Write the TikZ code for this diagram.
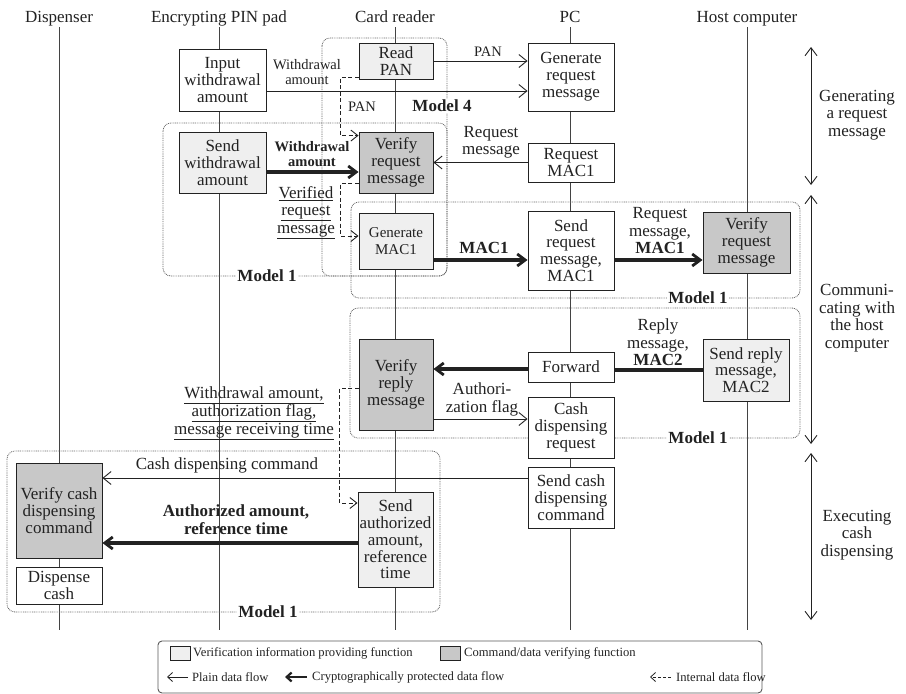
\documentclass[tikz,border=0pt]{standalone}
\usepackage{fontspec}
\setmainfont{Liberation Serif}
\usetikzlibrary{arrows.meta}

\definecolor{ink}{HTML}{222222}
\definecolor{lightfn}{HTML}{EFEFEF}
\definecolor{darkfn}{HTML}{C8C8C8}
\definecolor{dotc}{HTML}{666666}

\newcommand\boxsz{\fontsize{17}{16.8}\selectfont}
\newcommand\labsz{\fontsize{17}{17.5}\selectfont}
\newcommand\smallsz{\fontsize{14.5}{15}\selectfont}
\newcommand\macsz{\fontsize{15}{17}\selectfont}
\newcommand\legsz{\fontsize{12.6}{14}\selectfont}

\begin{document}
\begin{tikzpicture}[x=1pt,y=-1pt,
  col/.style={anchor=base, font=\boxsz, text=ink, text depth=4pt, inner sep=1pt},
  life/.style={draw=ink!85, line width=0.8pt},
  fn/.style={draw=ink, line width=0.9pt, fill=white, align=center, inner sep=0pt, font=\boxsz, text=ink},
  fnlight/.style={fn, fill=lightfn},
  fndark/.style={fn, fill=darkfn},
  model/.style={draw=dotc, line width=0.8pt, dash pattern=on 0.9pt off 0.9pt, rounded corners=8pt},
  mlabel/.style={font=\bfseries\boxsz, text=ink, fill=white, inner sep=1pt},
  lab/.style={font=\labsz, text=ink, align=center, inner sep=0pt},
  slab/.style={font=\smallsz, text=ink, align=center, inner sep=0pt},
  plain/.style={draw=ink, line width=0.9pt, -{Straight Barb[length=8pt,width=13pt]}},
  crypto/.style={draw=ink, line width=3.3pt, -{Straight Barb[length=8pt,width=12pt,line width=2.8pt]}},
  cryptoline/.style={draw=ink, line width=3.3pt},
  internal/.style={draw=ink, line width=0.9pt, dash pattern=on 4pt off 2.5pt, -{Straight Barb[length=7pt,width=11pt]}},
  phase/.style={draw=ink, line width=0.9pt, {Straight Barb[length=8pt,width=12pt]}-{Straight Barb[length=8pt,width=12pt]}},
  legtxt/.style={anchor=west, font=\legsz, text=ink, inner sep=0pt}
]
\useasboundingbox (0,0) rectangle (906,694);

% participants and their lifelines
\node[col] (cD)  at (59,22)  {Dispenser};
\node[col] (cP)  at (219,22) {Encrypting PIN pad};
\node[col] (cC)  at (395,22) {Card reader};
\node[col] (cPC) at (570,22) {PC};
\node[col] (cH)  at (747,22) {Host computer};
\coordinate (lifeend) at (0,630);
\foreach \c in {cD,cP,cC,cPC,cH}
  \draw[life] (\c.south) -- (\c.south |- lifeend);

% model groupings
\draw[model] (322,38) rectangle (447,276);
\draw[model] (163,123) rectangle (447,276);
\draw[model] (351,202) rectangle (800,298);
\draw[model] (350,308) rectangle (800,438);
\draw[model] (7,451) rectangle (440,612);

% functions
\node[fn,      minimum width=87pt, minimum height=62pt] (inp)      at (222.5,80)    {Input\\withdrawal\\amount};
\node[fnlight, minimum width=74pt, minimum height=36pt] (rpan)     at (396,61)      {Read\\PAN};
\node[fn,      minimum width=86pt, minimum height=68pt] (genreq)   at (571,77)      {Generate\\request\\message};
\node[fnlight, minimum width=87pt, minimum height=61pt] (sendwd)   at (222.5,162.5) {Send\\withdrawal\\amount};
\node[fndark,  minimum width=74pt, minimum height=61pt] (verreq)   at (396,162.5)   {Verify\\request\\message};
\node[fn,      minimum width=86pt, minimum height=39pt] (reqmac)   at (571,162.5)   {Request\\MAC1};
\node[fnlight, minimum width=74pt, minimum height=56pt, font=\macsz] (genmac) at (396,241) {Generate\\MAC1};
\node[fn,      minimum width=86pt, minimum height=79pt] (sendreq)  at (571,250.5)   {Send\\request\\message,\\MAC1};
\node[fndark,  minimum width=87pt, minimum height=61pt] (hverreq)  at (746.5,242.5) {Verify\\request\\message};
\node[fndark,  minimum width=74pt, minimum height=91pt] (verrep)   at (396,384.5)   {Verify\\reply\\message};
\node[fn,      minimum width=86pt, minimum height=30pt] (fwd)      at (571,367)     {Forward};
\node[fnlight, minimum width=86pt, minimum height=62pt] (sendrep)  at (746,370)     {Send reply\\message,\\MAC2};
\node[fn,      minimum width=86pt, minimum height=61pt] (cashreq)  at (571,427.5)   {Cash\\dispensing\\request};
\node[fn,      minimum width=86pt, minimum height=61pt] (sendcash) at (571,497.5)   {Send cash\\dispensing\\command};
\node[fndark,  minimum width=86pt, minimum height=95pt] (vercash)  at (59,510.5)    {Verify cash\\dispensing\\command};
\node[fn,      minimum width=86pt, minimum height=37pt] (disp)     at (59,585.5)    {Dispense\\cash};
\node[fnlight, minimum width=75pt, minimum height=95pt] (sendauth) at (395.5,539.5) {Send\\authorized\\amount,\\reference\\time};

% data flows
\draw[plain] (rpan.east) -- (rpan.east -| genreq.west);
\coordinate (wdout) at ([yshift=-11pt]inp.east);
\draw[plain] (wdout) -- (wdout -| genreq.west);
\coordinate (pan1) at ([yshift=-16pt]rpan.west);
\coordinate (pan2) at ([yshift=-4pt]verreq.north west);
\draw[internal] (pan1) -| ([xshift=-18pt]pan2) -- (pan2);
\coordinate (swo) at ([yshift=-9.5pt]sendwd.east);
\draw[crypto] (swo) -- (swo -| verreq.west);
\draw[plain] (reqmac.west) -- (reqmac.west -| verreq.east);
\coordinate (vr1) at ([yshift=-20.5pt]verreq.west);
\coordinate (gm1) at ([yshift=5pt]genmac.west);
\draw[internal] (vr1) -- ++(-18,0) |- (gm1);
\coordinate (gmo) at ([yshift=-19pt]genmac.east);
\draw[crypto] (gmo) -- (gmo -| sendreq.west);
\coordinate (sro) at ([yshift=-9.5pt]sendreq.east);
\draw[crypto] (sro) -- (sro -| hverreq.west);
\coordinate (fwo) at ([yshift=-2pt]fwd.west);
\draw[crypto] (fwo) -- (fwo -| verrep.east);
\draw[cryptoline] (sendrep.west) -- (sendrep.west -| fwd.east);
\coordinate (vpo) at ([yshift=-34.5pt]verrep.east);
\draw[plain] (vpo) -- (vpo -| cashreq.west);
\coordinate (vp1) at ([yshift=-3.5pt]verrep.west);
\coordinate (sa1) at ([yshift=36.5pt]sendauth.west);
\draw[internal] (vp1) -- ++(-19,0) |- (sa1);
\coordinate (sco) at ([yshift=19.5pt]sendcash.west);
\draw[plain] (sco) -- (sco -| vercash.east);
\coordinate (sao) at ([yshift=-3.5pt]sendauth.west);
\draw[crypto] (sao) -- (sao -| vercash.east);

% flow labels
\node[slab] (l1)  at (307,72.5)  {Withdrawal\\amount};
\node[slab] (l2)  at (488,52)    {PAN};
\node[slab] (l3)  at (362,107)   {PAN};
\node[slab, font=\bfseries\smallsz] (l4) at (312,154.5) {Withdrawal\\amount};
\node[lab]  (l5)  at (491,142.5) {Request\\message};
\node[lab]  (l6)  at (306,212.5) {\underline{Verified}\\\underline{request}\\\underline{message}};
\node[lab, font=\bfseries\labsz] (l7) at (484,248) {MAC1};
\node[lab]  (l8)  at (660,231)   {Request\\message,\\\textbf{MAC1}};
\node[lab]  (l9)  at (658,342.5) {Reply\\message,\\\textbf{MAC2}};
\node[lab]  (l10) at (482,399.5) {Authori-\\zation flag};
\node[lab, font=\fontsize{17}{16.5}\selectfont] (l11) at (254,413.5)
  {\underline{Withdrawal amount,}\\\underline{authorization flag,}\\\underline{message receiving time}};
\node[lab]  (l12) at (227,465)   {Cash dispensing command};
\node[lab, font=\bfseries\labsz] (l13) at (236,519.5) {Authorized amount,\\reference time};

% model labels
\node[mlabel] (m4)  at (442,106) {Model 4};
\node[mlabel] (m1a) at (267,276) {Model 1};
\node[mlabel] (m1b) at (698,298) {Model 1};
\node[mlabel] (m1c) at (698,438) {Model 1};
\node[mlabel] (m1d) at (268,612) {Model 1};

% phases
\coordinate (p1a) at (811,47);  \coordinate (p1b) at (811,185);
\coordinate (p2a) at (811,195); \coordinate (p2b) at (811,444);
\coordinate (p3a) at (811,453); \coordinate (p3b) at (811,620);
\draw[phase] (p1a) -- (p1b);
\draw[phase] (p2a) -- (p2b);
\draw[phase] (p3a) -- (p3b);
\node[lab] (ph1) at (857,115) {Generating\\a request\\message};
\node[lab] (ph2) at (857,318) {Communi-\\cating with\\the host\\computer};
\node[lab] (ph3) at (857,535) {Executing\\cash\\dispensing};

% legend
\node[draw=ink!75, line width=0.9pt, rounded corners=4pt, minimum width=604pt, minimum height=52pt, inner sep=0pt] (legend) at (460,667) {};
\node[fnlight, minimum width=20pt, minimum height=14pt] (swl) at (180,653) {};
\node[legtxt] (tl) at (193,653) {Verification information providing function};
\node[fndark, minimum width=20pt, minimum height=14pt] (swd) at (450,653) {};
\node[legtxt] (td) at (464,653) {Command/data verifying function};
\coordinate (a1s) at (188,677); \coordinate (a1e) at (167,677);
\draw[draw=ink, line width=0.8pt, -{Straight Barb[length=5pt,width=9pt]}] (a1s) -- (a1e);
\node[legtxt] (t1) at (192,677) {Plain data flow};
\coordinate (a2s) at (307,677); \coordinate (a2e) at (285,677);
\draw[draw=ink, line width=2.8pt, -{Straight Barb[length=5pt,width=9pt,line width=2.2pt]}] (a2s) -- (a2e);
\node[legtxt] (t2) at (312,677) {Cryptographically protected data flow};
\coordinate (a3s) at (671,677); \coordinate (a3e) at (650,677);
\draw[draw=ink, line width=0.8pt, dash pattern=on 3pt off 2pt, -{Straight Barb[length=5pt,width=9pt]}] (a3s) -- (a3e);
\node[legtxt] (t3) at (676,677) {Internal data flow};
\end{tikzpicture}
\end{document}
